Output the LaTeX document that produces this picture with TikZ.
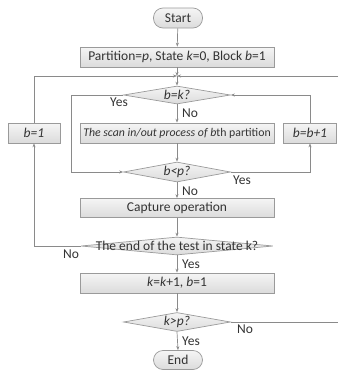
\documentclass[tikz,border=0pt]{standalone}
\usepackage{fontspec}
\setmainfont{Carlito}
\usetikzlibrary{arrows.meta,shapes.geometric}
\definecolor{lin}{HTML}{8A8A8A}
\definecolor{brd}{HTML}{9A9A9A}
\definecolor{txt}{HTML}{333333}
\begin{document}
\begin{tikzpicture}[x=1pt,y=-1pt,
  every node/.style={text=txt,font=\fontsize{13.5}{15}\selectfont},
  box/.style={draw=brd,line width=0.7pt,top color=white!96!black,bottom color=black!14,minimum height=20pt,inner sep=0pt},
  term/.style={box,rounded corners=9.5pt,minimum width=49pt},
  dia/.style={draw=brd,line width=0.7pt,diamond,top color=white!96!black,bottom color=black!14,inner sep=0pt},
  lab/.style={inner sep=1pt},
  conn/.style={draw=lin,line width=0.7pt,-{Stealth[length=4pt,width=3pt]}},
  plain/.style={draw=lin,line width=0.7pt}]
\useasboundingbox (0,0) rectangle (338,370);
\node[term] (start) at (178,18) {Start};
\node[box,minimum width=194pt] (init) at (177,57) {Partition=\textit{p}, State \textit{k}=0, Block \textit{b}=1};
\coordinate (merge) at (177,76);
\node[dia,minimum width=107pt,minimum height=18pt] (d1) at (177,95) {};
\node at (d1) {\textit{b=k?}};
\node[box,minimum width=194pt] (scan) at (177,133) {};
\node[font=\fontsize{11.8}{14}\selectfont] at (scan) {\textit{The scan in/out process of b}th partition};
\node[box,minimum width=52pt] (b1) at (34,133) {\textit{b=1}};
\node[box,minimum width=53pt] (bb) at (310,133) {\textit{b=b+1}};
\node[dia,minimum width=107pt,minimum height=20pt] (d2) at (177,172) {};
\node at (d2) {\textit{b<p?}};
\node[box,minimum width=194pt,minimum height=19pt] (cap) at (177,208) {Capture operation};
\node[dia,minimum width=192pt,minimum height=18pt] (d3) at (177,246) {};
\node at (d3) {The end of the test in state k?};
\node[box,minimum width=194pt] (inc) at (177,283) {\textit{k}=\textit{k}+1, \textit{b}=1};
\node[dia,minimum width=107pt,minimum height=19pt] (d4) at (177,322) {};
\node at (d4) {\textit{k>p?}};
\node[term,minimum height=19pt] (end) at (178,360) {End};
\coordinate (redge) at (338,76);
\coordinate (redge2) at (338,322);
% connectors
\path[conn] (start) -- (init);
\path[conn] (init) -- (merge);
\path[conn] (merge) -- (d1.north);
\path[conn] (b1.north) |- (merge);
\path[conn] (redge) -- (merge);
\path[conn] (d1) -- (scan);
\path[conn] (d1.west) -| (71,172) -- (d2.west);
\path[conn] (scan) -- (d2.north);
\path[conn] (d2.east) -| (bb.south);
\path[conn] (bb.north) |- (d1.east);
\path[conn] (d2.south) -- (cap.north);
\path[conn] (cap) -- (d3.north);
\path[conn] (d3.west) -| (b1.south);
\path[conn] (d3.south) -- (inc.north);
\path[conn] (inc) -- (d4.north);
\path[conn] (d4.south) -- (end.north);
\path[plain] (d4.east) -- (redge2);
% labels
\node[lab] at (119,102) {Yes};
\node[lab] at (190,113) {No};
\node[lab] at (242,180) {Yes};
\node[lab] at (190,191) {No};
\node[lab] at (71,254) {No};
\node[lab] at (191,264) {Yes};
\node[lab] at (245,329) {No};
\node[lab] at (191,341) {Yes};
\end{tikzpicture}
\end{document}
